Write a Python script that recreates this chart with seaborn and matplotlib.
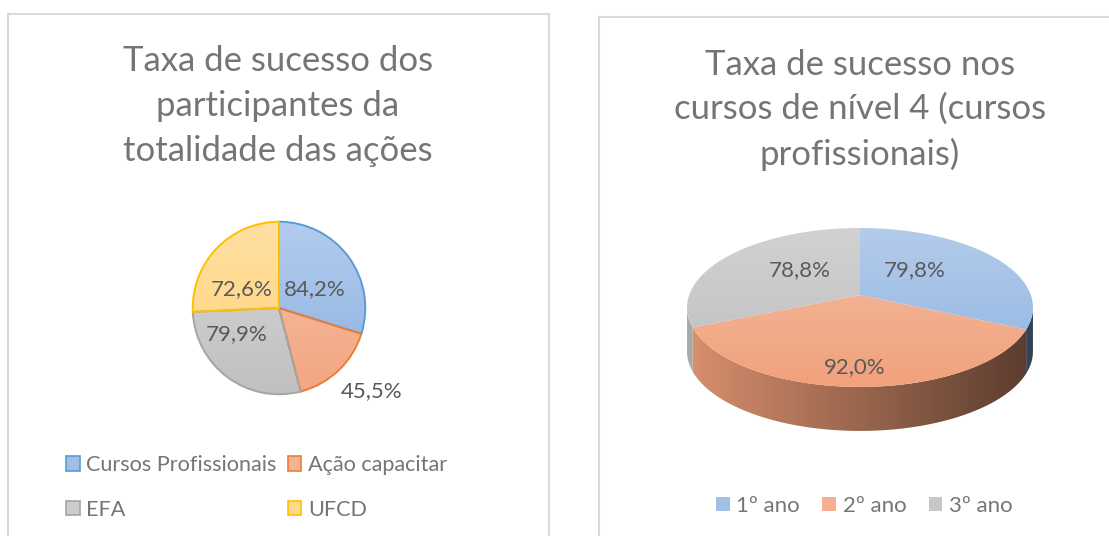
import numpy as np
import matplotlib
matplotlib.use("Agg")
import matplotlib.pyplot as plt
import seaborn as sns
from matplotlib.patches import Rectangle, Polygon, Patch

sns.set_theme(style="white")
plt.rcParams["font.family"] = ["Lato", "DejaVu Sans"]

# ---- data ----
acoes_labels = ["Cursos Profissionais", "Ação capacitar", "EFA", "UFCD"]
acoes_taxa = [84.2, 45.5, 79.9, 72.6]
anos_labels = ["1º ano", "2º ano", "3º ano"]
anos_taxa = [79.8, 92.0, 78.8]
titulo_acoes = "Taxa de sucesso dos\nparticipantes da\ntotalidade das ações"
titulo_anos = "Taxa de sucesso nos\ncursos de nível 4 (cursos\nprofissionais)"

# ---- styling ----
acoes_top = ["#B3CCEE", "#F6C2A9", "#D8D8D8", "#FFE0A2"]
acoes_bot = ["#8CB1E0", "#F3A581", "#C0C0C0", "#FFD27A"]
acoes_edge = ["#5B9BD5", "#ED7D31", "#A5A5A5", "#FFC000"]
anos_top = ["#B5CCEB", "#F4BEA3", "#D2D2D2"]
anos_bot = ["#8DB3E2", "#F1A07A", "#BDBDBD"]
TITLE_C = "#757575"
LABEL_C = "#595959"
FRAME_C = "#D9D9D9"

W, H = 1109, 536
fig = plt.figure(figsize=(W / 100, H / 100), dpi=100)
fig.patch.set_facecolor("white")


def box(x0, y0, x1, y1):
    return [x0 / W, 1 - y1 / H, (x1 - x0) / W, (y1 - y0) / H]


def hexrgb(c):
    return np.array(matplotlib.colors.to_rgb(c))


def gradient_fill(ax, patch, c_top, c_bot, extent, zorder):
    """Vertical gradient clipped to a patch."""
    n = 128
    t = np.linspace(0, 1, n)[:, None]
    img = (1 - t) * hexrgb(c_bot) + t * hexrgb(c_top)
    img = np.repeat(img[:, None, :], 2, axis=1)
    im = ax.imshow(img, extent=extent, origin="lower", aspect="auto",
                   interpolation="bilinear", zorder=zorder)
    im.set_clip_path(patch)
    return im


def fmt(v):
    return f"{v:.1f}%".replace(".", ",")


# chart frames
for (x0, y0, x1, y1) in [(8, 14, 549, 560), (599, 17, 1130, 560)]:
    fig.add_artist(Rectangle((x0 / W, 1 - y1 / H), (x1 - x0) / W, (y1 - y0) / H,
                             transform=fig.transFigure, fill=False,
                             edgecolor=FRAME_C, linewidth=1.5))

# titles
fig.text(278 / W, 1 - 106 / H, titulo_acoes, ha="center", va="center",
         fontsize=25, color=TITLE_C, linespacing=1.5)
fig.text(860 / W, 1 - 110 / H, titulo_anos, ha="center", va="center",
         fontsize=25, color=TITLE_C, linespacing=1.45)

# ---- left: flat pie ----
cx, cy, r = 279, 308, 88
ax1 = fig.add_axes(box(cx - r, cy - r, cx + r, cy + r))
wedges1, _ = ax1.pie(acoes_taxa, startangle=90, counterclock=False,
                     colors=acoes_bot, wedgeprops=dict(linewidth=1.4))
for w, ct, cb, ec in zip(wedges1, acoes_top, acoes_bot, acoes_edge):
    w.set_edgecolor(ec)
    w.set_facecolor("none")
    w.set_zorder(3)
    gradient_fill(ax1, w, ct, cb, (-1, 1, -1, 1), 2)
ax1.set_xlim(-1.02, 1.02)
ax1.set_ylim(-1.02, 1.02)
ax1.set_aspect("auto")
ax1.axis("off")

# label placement (distance from centre, angle in degrees)
lab_pos1 = [(0.47, 27), (1.44, -42), (0.58, 212), (0.48, 153)]
for v, (d, ang) in zip(acoes_taxa, lab_pos1):
    a = np.deg2rad(ang)
    ax1.text(d * np.cos(a), d * np.sin(a), fmt(v), ha="center", va="center",
             fontsize=16, color=LABEL_C, zorder=5, clip_on=False)

handles1 = [Patch(facecolor=(hexrgb(t) + hexrgb(b)) / 2, edgecolor=e, linewidth=1.2)
            for t, b, e in zip(acoes_top, acoes_bot, acoes_edge)]
order = [0, 2, 1, 3]
fig.legend([handles1[i] for i in order], [acoes_labels[i] for i in order],
           ncol=2, loc="upper left", bbox_to_anchor=(66 / W, 1 - 455 / H),
           frameon=False, fontsize=15.6, labelcolor=TITLE_C,
           handlelength=0.64, handleheight=0.64, handletextpad=0.3,
           columnspacing=0.5, labelspacing=1.15, borderpad=0, borderaxespad=0)

# ---- right: pie seen in perspective ----
# screen offsets (pixels) relative to the pie centre, y pointing up
PX, PY = 860, 295                  # pie centre on the page
A3, B3, K3 = 170.8, 77.5, 0.157    # horizontal / vertical scale and perspective
DEPTH = 44


def persp(xy):
    u, v = xy[:, 0], xy[:, 1]
    s = 1.0 + K3 * v
    return np.column_stack([A3 * u / s, B3 * v / s])


def arc(t0, t1, n=200):
    t = np.deg2rad(np.linspace(t0, t1, n))
    return np.column_stack([np.cos(t), np.sin(t)])


X0, X1, Y0, Y1 = -190, 190, -150, 80
ax2 = fig.add_axes(box(PX + X0, PY - Y1, PX + X1, PY - Y0))
wedges2, _ = ax2.pie(anos_taxa, startangle=90, counterclock=False,
                     colors=anos_bot, wedgeprops=dict(linewidth=0))

# silhouette angles of the projected rim (vertical tangents)
sil = np.rad2deg(np.arcsin(K3))
vis_lo, vis_hi = -180 + sil, -sil

for w, ct, cb in zip(wedges2, anos_top, anos_bot):
    # top face
    verts = np.vstack([[0.0, 0.0], arc(w.theta1, w.theta2)])
    top_poly = Polygon(persp(verts), closed=True, facecolor="none",
                       edgecolor="none", zorder=3)
    ax2.add_patch(top_poly)
    gradient_fill(ax2, top_poly, ct, cb, (X0, X1, -100, 72), 2)
    w.set_visible(False)

    # side wall (front part of the rim only)
    lo, hi = w.theta1, w.theta2
    for shift in (0, 360, -360):
        s0, s1 = max(lo + shift, vis_lo), min(hi + shift, vis_hi)
        if s1 <= s0:
            continue
        rim = persp(arc(s0, s1, 150))
        low = rim.copy()
        low[:, 1] -= DEPTH
        side = Polygon(np.vstack([rim, low[::-1]]), closed=True,
                       facecolor="none", edgecolor="none", zorder=1)
        ax2.add_patch(side)
        xs = np.linspace(-1, 1, 256)
        shade = np.interp(xs, [-1, 1], [0.90, 0.37])
        img = shade[None, :, None] * hexrgb(cb)[None, None, :]
        img = np.repeat(img, 2, axis=0)
        im = ax2.imshow(img, extent=(-A3 * 1.02, A3 * 1.02, -140, 0),
                        origin="lower", aspect="auto",
                        interpolation="bilinear", zorder=1)
        im.set_clip_path(side)

ax2.set_xlim(X0, X1)
ax2.set_ylim(Y0, Y1)
ax2.set_aspect("auto")
ax2.axis("off")

# label offsets from the pie centre (pixels)
lab_pos2 = [(55, 25), (-5, -72), (-60, 25)]
for v, (dx, dy) in zip(anos_taxa, lab_pos2):
    ax2.text(dx, dy, fmt(v), ha="center", va="center",
             fontsize=16, color=LABEL_C, zorder=5)

handles2 = [Patch(facecolor=(hexrgb(t) + hexrgb(b)) / 2, edgecolor="none")
            for t, b in zip(anos_top, anos_bot)]
fig.legend(handles2, anos_labels, ncol=3, loc="upper left",
           bbox_to_anchor=(716 / W, 1 - 496 / H), frameon=False, fontsize=16,
           labelcolor=TITLE_C, handlelength=0.62, handleheight=0.62,
           handletextpad=0.3, columnspacing=1.0, borderpad=0, borderaxespad=0)

fig.savefig("out.png", dpi=100, facecolor="white")
